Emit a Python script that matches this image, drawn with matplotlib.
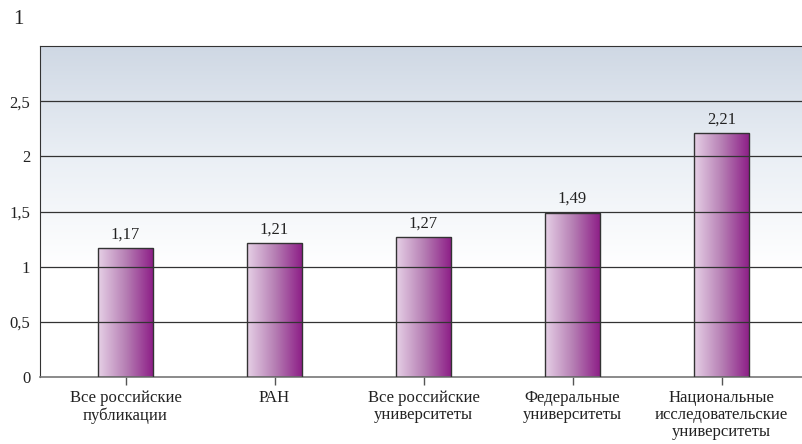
import numpy as np
import matplotlib.pyplot as plt
from matplotlib.colors import LinearSegmentedColormap

categories = ["Все российские\nпубликации", "РАН", "Все российские\nуниверситеты",
              "Федеральные\nуниверситеты", "Национальные\nисследовательские\nуниверситеты"]
values = [1.17, 1.21, 1.27, 1.49, 2.21]
value_labels = ["1,17", "1,21", "1,27", "1,49", "2,21"]
yticks = [0, 0.5, 1, 1.5, 2, 2.5]
ytick_labels = ["0", "0,5", "1", "1,5", "2", "2,5"]

plt.rcParams['font.family'] = ['Liberation Serif', 'DejaVu Serif']

fig = plt.figure(figsize=(8.02, 4.44), dpi=100)
ax = fig.add_axes([40 / 802, 1 - 377 / 444, 1 - 40 / 802, (377 - 46) / 444])

x = np.arange(len(categories))
xlim = (-0.574, 4.54)
ylim = (0, 3)
ax.set_xlim(*xlim)
ax.set_ylim(*ylim)

# background: blue-grey at the top fading to white further down
bg_cmap = LinearSegmentedColormap.from_list("bg", ["#ffffff", "#ffffff", "#eaeff5", "#cfd8e4"])
bg = np.linspace(0, 1, 256).reshape(-1, 1)
ax.imshow(bg, cmap=bg_cmap, aspect='auto', origin='lower',
          extent=[xlim[0], xlim[1], ylim[0], ylim[1]], zorder=0)

# bars with a horizontal light-to-purple gradient
bar_cmap = LinearSegmentedColormap.from_list("bar", ["#e6d0e6", "#b67fb4", "#8c1c86"])
grad = np.linspace(0, 1, 256).reshape(1, -1)
bars = ax.bar(x, values, width=0.37, facecolor='none', edgecolor='#333333',
              linewidth=1.0, zorder=3)
for rect in bars:
    x0, w, h = rect.get_x(), rect.get_width(), rect.get_height()
    im = ax.imshow(grad, cmap=bar_cmap, aspect='auto',
                   extent=[x0, x0 + w, 0, h], zorder=2)
    im.set_clip_path(rect)

for xi, v, lab in zip(x, values, value_labels):
    ax.text(xi, v + 0.05, lab, ha='center', va='bottom', fontsize=12, color='#222222')

# horizontal grid lines
for yt in yticks[1:]:
    ax.axhline(yt, color='#333333', linewidth=0.9, zorder=2.5)

ax.set_xlim(*xlim)
ax.set_ylim(*ylim)
ax.set_yticks(yticks)
ax.set_yticklabels(ytick_labels, fontsize=12, color='#222222')
ax.tick_params(axis='y', length=0, pad=7)
ax.set_xticks(x)
ax.set_xticklabels(categories, fontsize=12, color='#222222', linespacing=1.12)
ax.tick_params(axis='x', length=6, width=1, color='#555555', direction='out', pad=3)

ax.spines['right'].set_visible(False)
ax.spines['left'].set_color('#333333')
ax.spines['top'].set_color('#333333')
ax.spines['bottom'].set_color('#777777')
ax.spines['bottom'].set_linewidth(1.2)

fig.text(13 / 802, 1 - 20 / 444, "1", fontsize=15, ha='left', va='center', color='#222222')

fig.savefig("out.png", dpi=100)
